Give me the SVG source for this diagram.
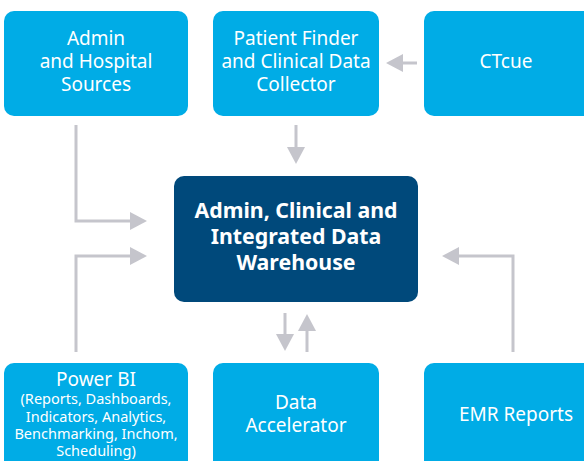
<svg xmlns="http://www.w3.org/2000/svg" width="584" height="461" viewBox="0 0 584 461">
<defs>
<style>
.box{fill:#00ace6}
.dark{fill:#00497b}
.t{font-family:"Noto Sans","Open Sans",sans-serif;font-size:19px;fill:#fff;text-anchor:middle}
.b{font-weight:bold;font-size:21.3px}
.s{font-size:14.5px}
.c{fill:none;stroke:#c5c5cc;stroke-width:3}
.h{fill:#c5c5cc}
</style>
</defs>
<rect width="584" height="461" fill="#fff"/>
<g id="connectors">
<polyline class="c" points="76,125 76,221 132,221"/>
<polygon class="h" points="130,212 147,221 130,230"/>
<line class="c" x1="296" y1="125" x2="296" y2="149"/>
<polygon class="h" points="287,147 305,147 296,164"/>
<line class="c" x1="417" y1="63" x2="400" y2="63"/>
<polygon class="h" points="403,54 403,72 386,63"/>
<polyline class="c" points="76,352 76,256 132,256"/>
<polygon class="h" points="130,247 147,256 130,265"/>
<polyline class="c" points="513,352 513,256 457,256"/>
<polygon class="h" points="459,247 459,265 442,256"/>
<line class="c" x1="285" y1="313" x2="285" y2="337"/>
<polygon class="h" points="276,334 294,334 285,351"/>
<line class="c" x1="307" y1="352" x2="307" y2="328"/>
<polygon class="h" points="298,331 316,331 307,314"/>
</g>
<g id="admin">
<rect class="box" x="4" y="11" width="184" height="105" rx="10"/>
<text class="t" x="96" y="45">Admin</text>
<text class="t" x="96" y="68">and Hospital</text>
<text class="t" x="96" y="91">Sources</text>
</g>
<g id="patientfinder">
<rect class="box" x="213" y="11" width="166" height="105" rx="10"/>
<text class="t" x="296" y="45">Patient Finder</text>
<text class="t" x="296" y="68">and Clinical Data</text>
<text class="t" x="296" y="91">Collector</text>
</g>
<g id="ctcue">
<rect class="box" x="424" y="11" width="180" height="105" rx="10"/>
<text class="t" x="506" y="68">CTcue</text>
</g>
<g id="warehouse">
<rect class="dark" x="174" y="176" width="244" height="126" rx="10"/>
<text class="t b" x="296" y="218">Admin, Clinical and</text>
<text class="t b" x="296" y="244">Integrated Data</text>
<text class="t b" x="296" y="270">Warehouse</text>
</g>
<g id="powerbi">
<rect class="box" x="4" y="363" width="184" height="120" rx="10"/>
<text class="t" x="96" y="386">Power BI</text>
<text class="t s" x="96" y="404">(Reports, Dashboards,</text>
<text class="t s" x="96" y="422">Indicators, Analytics,</text>
<text class="t s" x="96" y="439">Benchmarking, Inchom,</text>
<text class="t s" x="96" y="456">Scheduling)</text>
</g>
<g id="accelerator">
<rect class="box" x="213" y="363" width="166" height="120" rx="10"/>
<text class="t" x="296" y="409">Data</text>
<text class="t" x="296" y="432">Accelerator</text>
</g>
<g id="emr">
<rect class="box" x="424" y="363" width="180" height="120" rx="10"/>
<text class="t" x="516" y="421">EMR Reports</text>
</g>
</svg>
